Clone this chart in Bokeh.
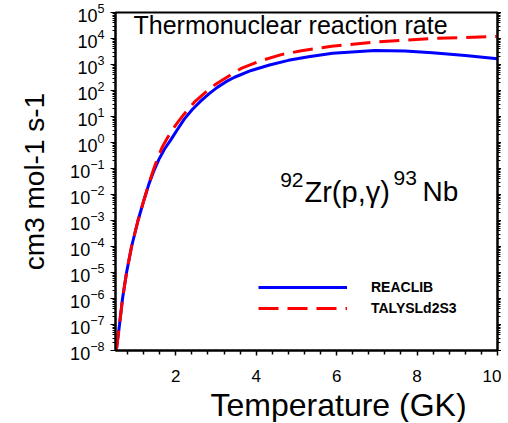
from bokeh.plotting import figure
from bokeh.models import (LogAxis, FixedTicker, LogTickFormatter, Range1d, Label,
                          Legend, LegendItem, Title)
from bokeh.embed import file_html
from bokeh.resources import INLINE

# ---- data (T in GK, log10 of rate in cm3 mol-1 s-1) ----
reaclib_T = [0.52, 0.6, 0.675, 0.775, 0.9, 1.06, 1.21, 1.33, 1.46, 1.58, 1.72, 1.875,
             2.04, 2.21, 2.41, 2.625, 2.83, 3.04, 3.25, 3.46, 3.875, 4.33, 4.8, 5.3,
             5.9, 6.95, 7.7, 8.375, 9.2, 10.0]
reaclib_log10 = [-8, -7, -6, -5, -4, -3, -2.2, -1.6, -1.07, -0.65, -0.25, 0.1,
                 0.5, 0.9, 1.27, 1.6, 1.88, 2.13, 2.34, 2.51, 2.77, 2.98, 3.16, 3.3,
                 3.43, 3.54, 3.52, 3.45, 3.35, 3.22]

talys_T = [0.52, 0.6, 0.675, 0.775, 0.9, 1.06, 1.21, 1.33, 1.45, 1.56, 1.67, 1.8,
           1.92, 2.06, 2.21, 2.46, 2.79, 3.0, 3.21, 3.625, 4.125, 4.625, 5.125,
           5.875, 6.95, 8.375, 10.0]
talys_log10 = [-8, -7, -6, -5, -4, -3, -2.2, -1.58, -1.02, -0.55, -0.15, 0.2,
               0.5, 0.8, 1.1, 1.55, 2.0, 2.25, 2.45, 2.85, 3.15, 3.38, 3.53,
               3.7, 3.86, 4.0, 4.08]

reaclib_rate = [10.0 ** v for v in reaclib_log10]
talys_rate = [10.0 ** v for v in talys_log10]

series_names = ["REACLIB", "TALYSLd2S3"]

x_major = [2, 4, 6, 8, 10]
x_minor = [0.8, 1.2, 1.6, 2.4, 2.8, 3.2, 3.6, 4.4, 4.8, 5.2, 5.6, 6.4, 6.8, 7.2, 7.6,
           8.4, 8.8, 9.2, 9.6]
y_exponents = list(range(-8, 6))
y_major = [10.0 ** k for k in y_exponents]
y_minor = [m * 10.0 ** k for k in y_exponents[:-1] for m in range(2, 10)]

FONT = "Liberation Sans"
INK = "black"

p = figure(output_backend="svg", toolbar_location=None,
           frame_width=382, frame_height=338,
           min_border_left=115, min_border_top=12, min_border_bottom=0,
           min_border_right=0,
           x_range=Range1d(0.5, 10), y_range=Range1d(1e-8, 1e5),
           y_axis_type="log")
p.grid.visible = False
p.outline_line_color = INK
p.outline_line_width = 2
p.background_fill_color = "white"
p.border_fill_color = "white"

# x axis
xa = p.xaxis[0]
xa.ticker = FixedTicker(ticks=x_major, minor_ticks=x_minor)
xa.major_label_text_font = FONT
xa.major_label_text_font_size = "17px"
xa.major_label_text_color = INK
xa.major_label_standoff = 14
xa.axis_line_width = 2
xa.axis_line_color = INK
xa.major_tick_out = 5
xa.major_tick_in = 0
xa.minor_tick_out = 4
xa.minor_tick_in = 0
xa.major_tick_line_width = 1.5
xa.minor_tick_line_width = 1.5

# x axis title, placed as in the reference (shifted right of the frame centre)
p.add_layout(Title(text="Temperature (GK)", align="left", offset=95,
                   text_font=FONT, text_font_size="32px", text_font_style="normal",
                   text_color=INK, standoff=0), "below")

# y axis
ya = p.yaxis[0]
ya.ticker = FixedTicker(ticks=y_major, minor_ticks=y_minor)
ya.formatter = LogTickFormatter()
ya.axis_label = "cm3 mol-1 s-1"
ya.axis_label_text_font = FONT
ya.axis_label_text_font_size = "28px"
ya.axis_label_text_font_style = "normal"
ya.axis_label_text_color = INK
ya.axis_label_standoff = 17
ya.major_label_text_font = FONT
ya.major_label_text_font_size = "18px"
ya.major_label_text_color = INK
ya.major_label_standoff = 6
ya.axis_line_width = 2
ya.axis_line_color = INK
ya.major_tick_out = 5
ya.major_tick_in = 0
ya.minor_tick_out = 3
ya.minor_tick_in = 0

ra = LogAxis(ticker=FixedTicker(ticks=y_major, minor_ticks=y_minor),
             major_label_text_font_size="2px", major_label_text_alpha=0,
             major_label_standoff=0,
             axis_line_width=2, major_tick_out=4, major_tick_in=0,
             minor_tick_out=3, minor_tick_in=0)
p.add_layout(ra, "right")

r1 = p.line(reaclib_T, reaclib_rate, line_color="#0000ff", line_width=3)
r2 = p.line(talys_T, talys_rate, line_color="#ff0000", line_width=3,
            line_dash="20 9")

legend = Legend(items=[LegendItem(label=series_names[0], renderers=[r1]),
                       LegendItem(label=series_names[1], renderers=[r2])],
                location=(143, 34), orientation="vertical",
                glyph_width=89, glyph_height=14, label_height=14,
                label_standoff=24, spacing=5, padding=0, margin=0,
                border_line_color=None, background_fill_alpha=0,
                label_text_font=FONT, label_text_font_size="14px",
                label_text_font_style="bold", label_text_color=INK)
p.add_layout(legend, "center")

p.add_layout(Label(x=18, y=326, x_units="screen", y_units="screen",
                   text="Thermonuclear reaction rate", text_font=FONT,
                   text_font_size="25px", text_color=INK,
                   text_baseline="alphabetic"))
p.add_layout(Label(x=188, y=171, x_units="screen", y_units="screen",
                   text="92", text_font=FONT, text_font_size="21px",
                   text_color=INK, text_align="right", text_baseline="alphabetic"))
p.add_layout(Label(x=189, y=159, x_units="screen", y_units="screen",
                   text="Zr(p,γ)", text_font=FONT, text_font_size="29px",
                   text_color=INK, text_baseline="alphabetic"))
p.add_layout(Label(x=278, y=173, x_units="screen", y_units="screen",
                   text="93", text_font=FONT, text_font_size="21px",
                   text_color=INK, text_baseline="alphabetic"))
p.add_layout(Label(x=307, y=159, x_units="screen", y_units="screen",
                   text="Nb", text_font=FONT, text_font_size="28px",
                   text_color=INK, text_baseline="alphabetic"))

open("out.html", "w").write(file_html(p, INLINE))
